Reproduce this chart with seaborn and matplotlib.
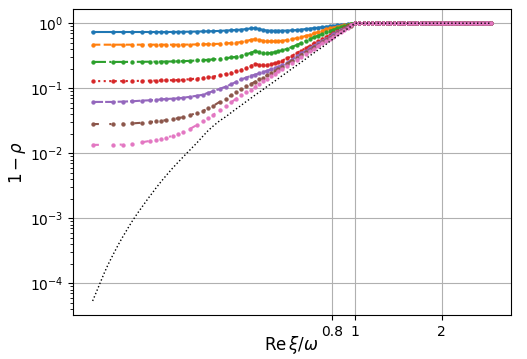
import numpy as np
import matplotlib
matplotlib.use("Agg")
import matplotlib.pyplot as plt
import matplotlib.ticker as mticker
import seaborn as sns

# ---------------------------------------------------------------
# Dados (eixo y em log -> guardo os expoentes)
# ---------------------------------------------------------------

# eixo x (Re xi / omega) ate 1
x_grid = [0, 0.002, 0.005, 0.01, 0.017, 0.024, 0.031, 0.038, 0.045, 0.055,
          0.065, 0.075, 0.09, 0.105, 0.12, 0.135, 0.15, 0.17, 0.19, 0.21,
          0.23, 0.25, 0.27, 0.29, 0.31, 0.33, 0.35, 0.37, 0.39, 0.41,
          0.43, 0.45, 0.48, 0.51, 0.54, 0.57, 0.60, 0.63, 0.66, 0.69,
          0.72, 0.75, 0.78, 0.81, 0.84, 0.87, 0.90, 0.93, 0.96, 1.0]

# parte plana (todas as curvas = 1)
x_flat = [1.04, 1.08, 1.12, 1.16, 1.2, 1.24, 1.28, 1.32, 1.36, 1.4,
          1.44, 1.48, 1.52, 1.56, 1.6, 1.64, 1.68, 1.72, 1.76, 1.8,
          1.84, 1.88, 1.92, 1.96, 2.0, 2.04, 2.08, 2.12, 2.16, 2.2,
          2.24, 2.28, 2.32, 2.36, 2.4, 2.44, 2.48, 2.52, 2.56, 2.6,
          2.64, 2.68, 2.72, 2.76]
flat_exp = [0.0, 0.0, 0.0, 0.0, 0.0, 0.0, 0.0, 0.0, 0.0, 0.0,
            0.0, 0.0, 0.0, 0.0, 0.0, 0.0, 0.0, 0.0, 0.0, 0.0,
            0.0, 0.0, 0.0, 0.0, 0.0, 0.0, 0.0, 0.0, 0.0, 0.0,
            0.0, 0.0, 0.0, 0.0, 0.0, 0.0, 0.0, 0.0, 0.0, 0.0,
            0.0, 0.0, 0.0, 0.0]

# log10(1 - rho) de cada curva
blue_exp = [-0.135, -0.135, -0.135, -0.135, -0.135, -0.135, -0.135, -0.135, -0.135, -0.134,
            -0.133, -0.132, -0.13, -0.128, -0.126, -0.124, -0.122, -0.118, -0.113, -0.108,
            -0.103, -0.098, -0.09, -0.08, -0.075, -0.09, -0.105, -0.113, -0.115, -0.116,
            -0.116, -0.115, -0.113, -0.11, -0.105, -0.098, -0.09, -0.082, -0.075, -0.068,
            -0.06, -0.054, -0.048, -0.042, -0.035, -0.028, -0.021, -0.014, -0.008, 0.0]
orange_exp = [-0.33, -0.33, -0.33, -0.33, -0.33, -0.33, -0.33, -0.33, -0.33, -0.33,
              -0.33, -0.329, -0.328, -0.326, -0.324, -0.322, -0.32, -0.316, -0.311, -0.305,
              -0.298, -0.29, -0.275, -0.255, -0.245, -0.258, -0.27, -0.278, -0.28, -0.278,
              -0.274, -0.27, -0.26, -0.245, -0.23, -0.215, -0.195, -0.175, -0.155, -0.135,
              -0.115, -0.095, -0.08, -0.069, -0.057, -0.046, -0.035, -0.024, -0.014, 0.0]
green_exp = [-0.595, -0.595, -0.595, -0.594, -0.593, -0.592, -0.591, -0.59, -0.589, -0.588,
             -0.586, -0.583, -0.578, -0.573, -0.568, -0.562, -0.556, -0.548, -0.538, -0.527,
             -0.515, -0.5, -0.48, -0.455, -0.43, -0.445, -0.46, -0.462, -0.455, -0.445,
             -0.432, -0.418, -0.395, -0.365, -0.335, -0.305, -0.275, -0.245, -0.215, -0.19,
             -0.165, -0.14, -0.12, -0.1, -0.08, -0.062, -0.045, -0.03, -0.015, 0.0]
red_exp = [-0.89, -0.89, -0.89, -0.888, -0.886, -0.884, -0.882, -0.88, -0.878, -0.876,
           -0.873, -0.868, -0.86, -0.85, -0.84, -0.83, -0.82, -0.8, -0.78, -0.76,
           -0.74, -0.715, -0.69, -0.655, -0.63, -0.635, -0.64, -0.64, -0.63, -0.615,
           -0.595, -0.575, -0.54, -0.5, -0.46, -0.42, -0.385, -0.345, -0.31, -0.275,
           -0.24, -0.21, -0.18, -0.15, -0.125, -0.1, -0.075, -0.05, -0.03, 0.0]
purple_exp = [-1.21, -1.21, -1.205, -1.2, -1.19, -1.185, -1.18, -1.17, -1.165, -1.16,
              -1.155, -1.145, -1.13, -1.115, -1.1, -1.07, -1.045, -1.01, -0.975, -0.94,
              -0.9, -0.865, -0.835, -0.81, -0.79, -0.77, -0.75, -0.73, -0.71, -0.69,
              -0.67, -0.645, -0.61, -0.56, -0.51, -0.465, -0.425, -0.385, -0.345, -0.31,
              -0.275, -0.24, -0.205, -0.17, -0.14, -0.11, -0.082, -0.057, -0.034, 0.0]
brown_exp = [-1.55, -1.55, -1.545, -1.54, -1.53, -1.52, -1.51, -1.5, -1.49, -1.475,
             -1.46, -1.44, -1.41, -1.38, -1.35, -1.31, -1.27, -1.21, -1.16, -1.11,
             -1.06, -1.01, -0.97, -0.935, -0.9, -0.865, -0.835, -0.8, -0.765, -0.735,
             -0.7, -0.67, -0.625, -0.575, -0.53, -0.485, -0.445, -0.405, -0.365, -0.33,
             -0.295, -0.26, -0.225, -0.19, -0.155, -0.125, -0.095, -0.065, -0.038, 0.0]
pink_exp = [-1.87, -1.87, -1.865, -1.85, -1.83, -1.81, -1.795, -1.775, -1.76, -1.73,
            -1.7, -1.665, -1.62, -1.565, -1.51, -1.46, -1.41, -1.335, -1.27, -1.215,
            -1.16, -1.11, -1.065, -1.02, -0.975, -0.935, -0.895, -0.855, -0.815, -0.78,
            -0.74, -0.705, -0.655, -0.605, -0.56, -0.515, -0.47, -0.43, -0.39, -0.35,
            -0.31, -0.27, -0.24, -0.205, -0.17, -0.135, -0.1, -0.067, -0.035, 0.0]

# curva preta (limite), com mais pontos no inicio
black_x = [0, 0.0005, 0.001, 0.002, 0.0035, 0.005, 0.0075, 0.01, 0.0135, 0.017,
           0.0205, 0.024, 0.0275, 0.031, 0.038, 0.045, 0.055, 0.065, 0.075, 0.09,
           0.105, 0.12, 0.135, 0.15, 0.17, 0.19, 0.21, 0.23, 0.25, 0.27,
           0.29, 0.31, 0.33, 0.35, 0.37, 0.39, 0.41, 0.43, 0.45, 0.48,
           0.51, 0.54, 0.57, 0.60, 0.63, 0.66, 0.69, 0.72, 0.75, 0.78,
           0.81, 0.84, 0.87, 0.90, 0.93, 0.96, 1.0]
black_exp = [-4.27, -3.84, -3.71, -3.555, -3.4, -3.29, -3.15, -3.04, -2.92, -2.825,
             -2.74, -2.665, -2.6, -2.537, -2.43, -2.34, -2.228, -2.135, -2.052, -1.94,
             -1.84, -1.74, -1.65, -1.58, -1.5, -1.44, -1.375, -1.315, -1.26, -1.205,
             -1.155, -1.105, -1.06, -1.015, -0.97, -0.93, -0.89, -0.85, -0.81, -0.755,
             -0.7, -0.65, -0.6, -0.55, -0.5, -0.455, -0.41, -0.37, -0.325, -0.28,
             -0.24, -0.2, -0.16, -0.12, -0.085, -0.05, 0.0]

# ---------------------------------------------------------------
# Grafico
# ---------------------------------------------------------------
series = [blue_exp, orange_exp, green_exp, red_exp, purple_exp, brown_exp, pink_exp]
colors = sns.color_palette("tab10", 7)
line_styles = ['-', '--', '-.', ':', (0, (5, 1)), (0, (3, 5, 1, 5, 1, 5)), (0, (3, 10, 1, 10))]

# escala do eixo x (potencia)
p = 0.41
def fwd(x):
    return np.sign(x) * np.abs(x) ** p
def inv(y):
    return np.sign(y) * np.abs(y) ** (1 / p)

fig, ax = plt.subplots(figsize=(5.27, 3.59), dpi=100)
fig.subplots_adjust(left=0.138, right=0.969, bottom=0.123, top=0.974)
ax.set_xscale('function', functions=(fwd, inv))
ax.set_yscale('log')

x_all = np.array(x_grid + x_flat)

for exps, cor, ls in zip(series, colors, line_styles):
    y = 10.0 ** np.array(exps + flat_exp)
    sns.lineplot(x=x_all, y=y, ax=ax, color=cor, linestyle=ls, linewidth=1.5,
                 marker='.', markersize=5.5, markeredgecolor=cor, markeredgewidth=0.3)

# curva preta pontilhada por cima
sns.lineplot(x=np.array(black_x + x_flat), y=10.0 ** np.array(black_exp + flat_exp), ax=ax,
             color='k', linestyle=':', linewidth=1.0)

# margens de 5% no espaco transformado
f0, f1 = fwd(min(x_all)), fwd(max(x_all))
d = 0.05 * (f1 - f0)
ax.set_xlim(inv(f0 - d), inv(f1 + d))

ax.set_xticks([0.8, 1, 2])
ax.xaxis.set_major_formatter(mticker.FormatStrFormatter('%g'))
ax.xaxis.set_minor_locator(mticker.NullLocator())
ax.grid(True)

ax.set_xlabel(r'$\mathrm{Re}\,\xi/\omega$', fontsize=12, labelpad=-3)
ax.set_ylabel(r'$1-\rho$', fontsize=12, labelpad=1)

fig.savefig('out.png', dpi=100)
